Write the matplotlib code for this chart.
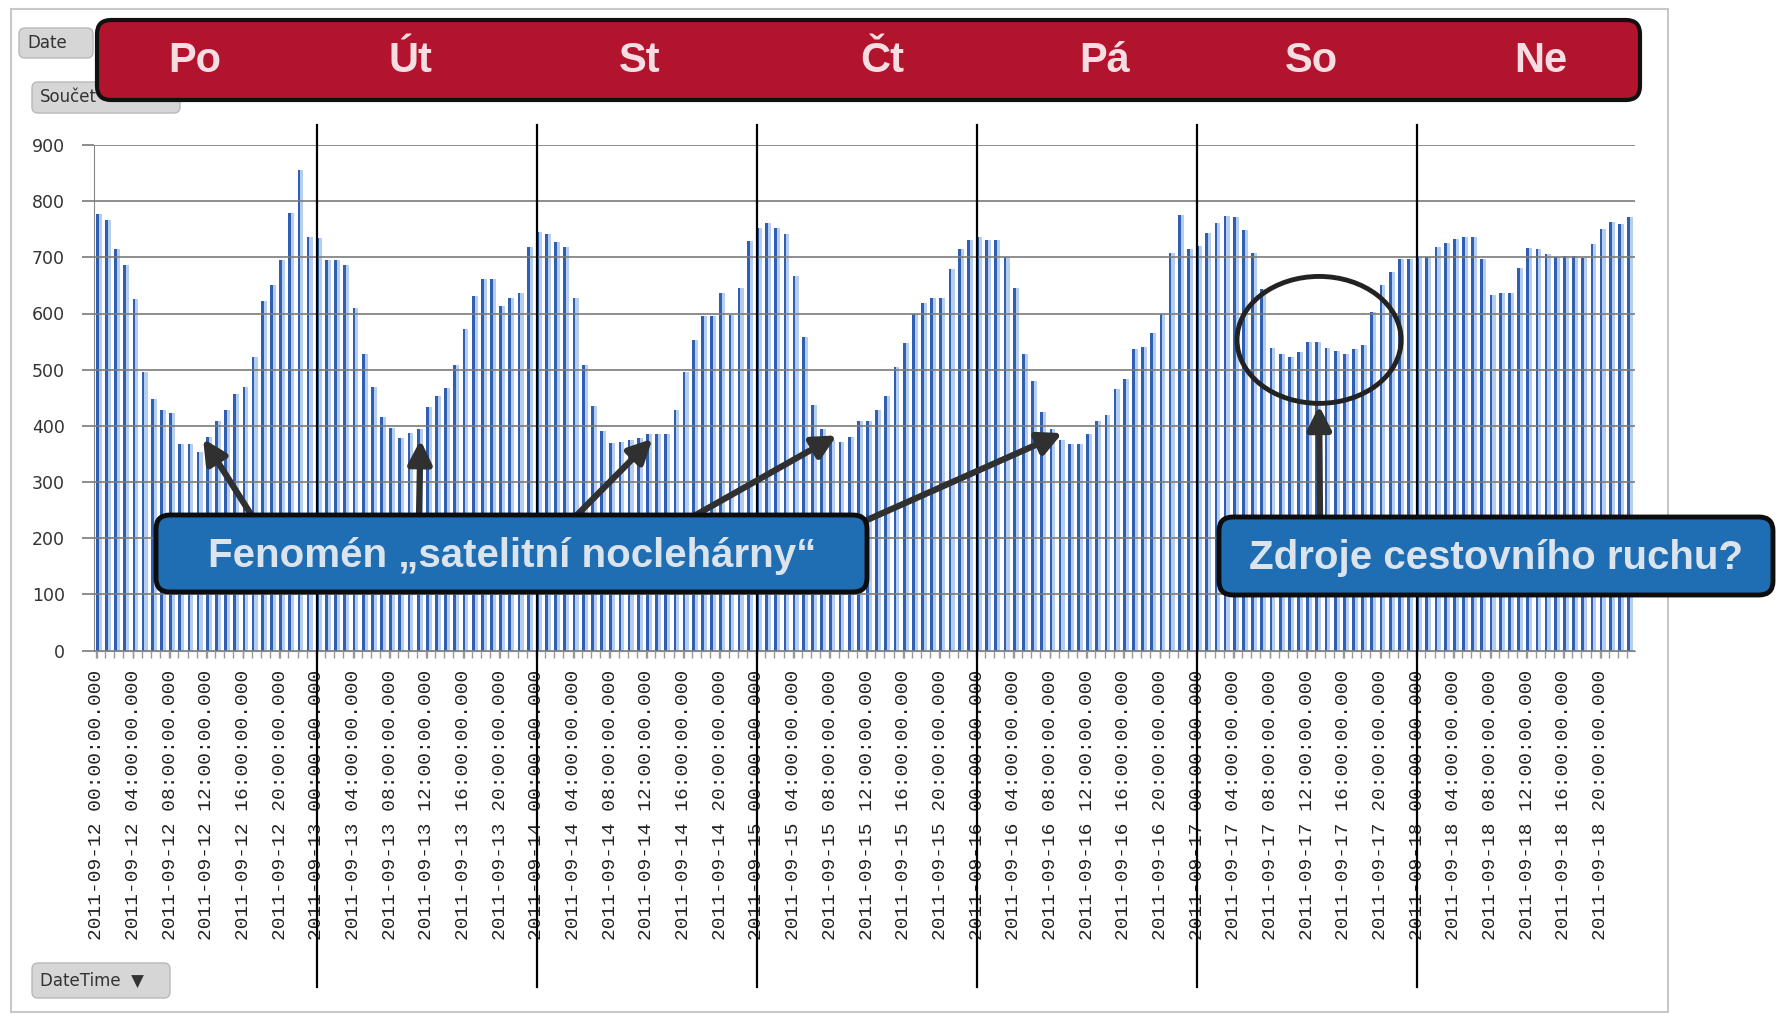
import matplotlib
matplotlib.use('Agg')
import matplotlib.pyplot as plt
from matplotlib.patches import FancyBboxPatch, Ellipse
from matplotlib.transforms import Affine2D
import numpy as np

W, H = 1777, 1016

# hourly values, one list per day (2011-09-12 .. 2011-09-18)
po = [778, 766, 714, 686, 626, 496, 447, 429, 422, 367, 367, 353, 380, 408, 429, 457, 470, 523, 623, 650, 695, 779, 856, 737]
ut = [734, 696, 696, 686, 609, 528, 470, 415, 397, 378, 387, 395, 434, 453, 467, 509, 573, 631, 662, 662, 614, 627, 636, 719]
st = [745, 741, 728, 719, 627, 509, 436, 391, 369, 372, 375, 378, 385, 386, 386, 429, 496, 552, 596, 596, 636, 598, 646, 729]
ct = [753, 761, 753, 741, 667, 559, 437, 395, 375, 372, 380, 409, 409, 429, 453, 505, 548, 600, 619, 627, 627, 679, 714, 731]
pa = [737, 731, 731, 700, 646, 528, 479, 425, 395, 375, 367, 367, 386, 409, 419, 466, 483, 536, 541, 566, 600, 708, 775, 714]
so = [720, 743, 761, 773, 771, 748, 708, 644, 538, 528, 523, 531, 550, 550, 538, 533, 528, 536, 544, 603, 650, 673, 697, 697]
ne = [700, 700, 719, 725, 733, 737, 736, 697, 633, 637, 637, 681, 716, 714, 706, 700, 702, 702, 698, 723, 750, 763, 759, 771]

days = ['Po', 'Út', 'St', 'Čt', 'Pá', 'So', 'Ne']
dates = ['2011-09-12', '2011-09-13', '2011-09-14', '2011-09-15', '2011-09-16', '2011-09-17', '2011-09-18']
yticks = [0, 100, 200, 300, 400, 500, 600, 700, 800, 900]

vals = np.array(po + ut + st + ct + pa + so + ne)
n = len(vals)
x = np.arange(n)
labels = ['%s %02d:00:00.000' % (d, h) for d in dates for h in range(0, 24, 4)]

fig = plt.figure(figsize=(W / 100, H / 100), dpi=100)
fig.patch.set_facecolor('white')
# pixel coords, y from top
px = Affine2D().scale(1 / W, -1 / H).translate(0, 1) + fig.transFigure

ax = fig.add_axes([94 / W, 1 - 650.5 / H, (1635 - 94) / W, (650.5 - 145) / H])
ax.bar(x + 0.15, vals, width=0.3, color='#2e5fb0', align='center', zorder=2)
ax.bar(x + 0.47, vals, width=0.34, color='#b6cdee', align='center', zorder=2)
ax.set_xlim(-0.2, n - 0.15)
ax.set_ylim(0, 900)
ax.set_yticks(yticks)
ax.yaxis.grid(True, color='#7a7a7a', lw=1.2, zorder=3)
ax.set_axisbelow(False)
ax.tick_params(axis='y', length=9, width=1.2, color='#7a7a7a', pad=12, labelsize=12.5, labelcolor='#333333')
ax.set_xticks(x[::4] + 0.1)
ax.set_xticklabels(labels, rotation=90, fontsize=14, color='#222222', va='top',
                   family=['Liberation Mono', 'DejaVu Sans Mono'])
ax.set_xticks(x, minor=True)
ax.tick_params(axis='x', which='both', length=5, width=1, color='#999999', pad=9)
for s in ['top', 'right']:
    ax.spines[s].set_visible(False)
ax.spines['left'].set_color('#888888')
ax.spines['bottom'].set_color('#888888')

# day separators
for d in range(1, 7):
    ax.plot([24 * d + 0.1] * 2, [-0.665, 1.04], color='black', lw=1.6,
            transform=ax.get_xaxis_transform(), clip_on=False, zorder=6)

# outer frame
fig.patches.append(plt.Rectangle((11, 9), 1657, 1003, transform=px, fill=False,
                                 ec='#c8c8c8', lw=1.5))

# field buttons
def button(x0, y0, w, h, txt):
    fig.patches.append(FancyBboxPatch((x0, y0), w, h, boxstyle='round,pad=0,rounding_size=6',
                                      transform=px, fc='#d6d6d6', ec='#b8b8b8', lw=1))
    fig.text(x0 + 8, y0 + h / 2, txt, transform=px, fontsize=12, color='#333333',
             va='center', ha='left')

button(19, 28, 74, 30, 'Date')
button(32, 82, 148, 31, 'Součet')
button(32, 963, 138, 35, 'DateTime  ▼')

# red banner with day names
fig.patches.append(FancyBboxPatch((97, 20), 1543, 80, boxstyle='round,pad=0,rounding_size=14',
                                  transform=px, fc='#b2132d', ec='#111111', lw=3, zorder=3))
day_x = [195, 410, 640, 882, 1105, 1311, 1541]
for dx, name in zip(day_x, days):
    fig.text(dx, 61, name, transform=px, ha='center', va='center', fontsize=30,
             fontweight='bold', color='#f5dde2', family=['Liberation Sans', 'DejaVu Sans'], zorder=4)

# callouts
box_style = dict(boxstyle='round,pad=0,rounding_size=14', transform=px, fc='#1f6db2',
                 ec='#0d0d0d', lw=3.5, zorder=3)
fig.patches.append(FancyBboxPatch((156, 515), 711, 77, **box_style))
fig.patches.append(FancyBboxPatch((1219, 517), 554, 78, **box_style))
fig.text(512, 556, 'Fenomén „satelitní noclehárny“', transform=px, ha='center', va='center',
         fontsize=29, fontweight='bold', color='#dbe3ec', family=['Liberation Sans', 'DejaVu Sans'], zorder=4)
fig.text(1496, 558, 'Zdroje cestovního ruchu?', transform=px, ha='center', va='center',
         fontsize=29, fontweight='bold', color='#dbe3ec', family=['Liberation Sans', 'DejaVu Sans'], zorder=4)

# arrows: (source px on box edge) -> (target in data coords)
arrows = [((252, 516), (11.7, 377)), ((419, 516), (35.4, 375)), ((576, 516), (60.7, 377)),
          ((694, 516), (80.8, 383)), ((867, 520), (105.4, 387)), ((1320, 517), (133.4, 436))]
for (sx, sy), (tx, ty) in arrows:
    ax.annotate('', xy=(tx, ty), xycoords='data', xytext=(sx, H - sy), textcoords='figure pixels',
                arrowprops=dict(arrowstyle='-|>,head_length=1.4,head_width=0.7', color='#303030',
                                lw=4.5, shrinkA=0, shrinkB=0),
                annotation_clip=False, zorder=7)

ax.add_patch(Ellipse((133.4, 553), 17.9, 226, fill=False, ec='#222222', lw=3.5,
                     clip_on=False, zorder=7))

fig.savefig('out.png', dpi=100, facecolor='white')
